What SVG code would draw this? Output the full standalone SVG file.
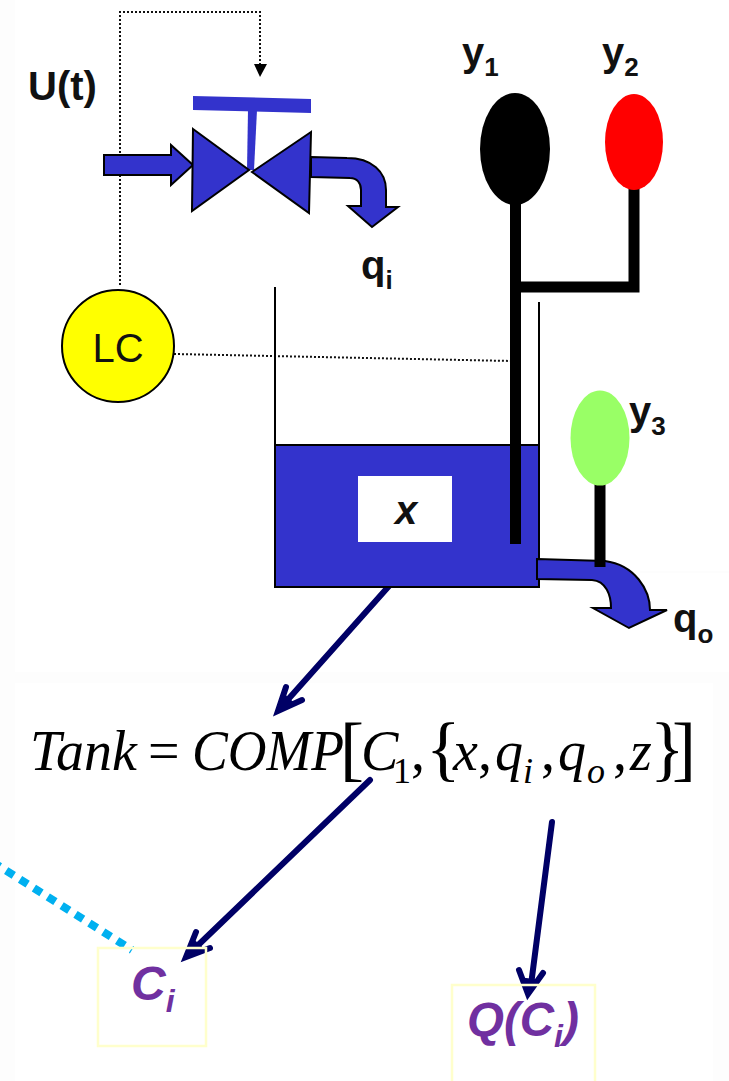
<svg xmlns="http://www.w3.org/2000/svg" width="729" height="1081" viewBox="0 0 729 1081">
<style>
text{font-family:"Liberation Sans",Arial,sans-serif}
.b{font-weight:bold;fill:#111;font-size:40px}
.s{font-size:26px}
.blue{fill:#3333cc;stroke:#000;stroke-width:2}
.rod{fill:none;stroke:#000;stroke-width:11}
.dot{fill:none;stroke:#111;stroke-width:2;stroke-dasharray:2 2}
.arr{fill:none;stroke:#000066;stroke-width:6;stroke-linecap:round}
.head{fill:#000066;stroke:#000066;stroke-width:1}
.m{font-family:"Liberation Serif","Times New Roman",serif;font-size:56px;font-style:italic;fill:#000}
.mu{font-style:normal}
.sub{font-size:36px}
.big{font-size:72px}
.box{fill:none;stroke:#ffffcc;stroke-width:2.500}
.p{font-weight:bold;font-style:italic;fill:#7030a0;font-size:48px}
.ps{font-size:32px}
.bg{fill:#fdfdfd}
</style>
<rect width="729" height="1081" fill="#fff"/>
<rect class="bg" x="0" y="0" width="15" height="1081"/>
<rect class="bg" x="0" y="672" width="729" height="11"/>
<rect class="bg" x="713" y="683" width="16" height="398"/>
<rect class="bg" x="640" y="571" width="89" height="2"/>
<g id="connectors">
<path class="dot" d="M120 285V12H260V65"/>
<path d="M254 64H267L260 77Z" fill="#000"/>
<path class="dot" d="M174 354L512 361"/>
<path d="M-7.700 861.800L132 950" fill="none" stroke="#00b0f0" stroke-width="8" stroke-dasharray="9 7.400"/>
<path class="arr" d="M389 586L284 704"/>
<path class="arr" d="M286 687L278 711L302 700" stroke-linejoin="miter"/>
<path class="head" d="M278 711L284 694L295 704Z"/>
<path class="arr" d="M370 780L192 951"/>
<path class="arr" d="M196 932L186 957L210 948"/>
<path class="head" d="M186 957L192 938L205 950Z"/>
<path class="arr" d="M552 822L531 985"/>
<path class="arr" d="M519 970L528 994L543 973"/>
<path class="head" d="M528 994L522 978L537 980Z"/>
</g>
<g id="valve">
<path d="M193 96L311 99V113L193 110Z" fill="#3333cc"/>
<path d="M248 110H257L254 170H247Z" fill="#3333cc"/>
<path class="blue" d="M104 155H171V145L193 165L171 185V175H104Z"/>
<path class="blue" d="M193 129L249 170L192 211Z"/>
<path class="blue" d="M311 132L252 172L309 213Z"/>
<path class="blue" d="M311 157L347 158C372 158 386 172 386 190V207H398L372 227L348 206H361V190C361 183 357 178 350 178L311 177Z"/>
</g>
<g id="tank">
<rect x="275" y="445" width="264" height="142" fill="#3333cc" stroke="#000" stroke-width="2"/>
<path d="M275 287V445M539 302V445" stroke="#000" stroke-width="2" fill="none"/>
<rect x="358" y="476" width="94" height="66" fill="#fff"/>
<text x="406" y="524" text-anchor="middle" font-size="40" font-weight="bold" font-style="italic" fill="#111">x</text>
</g>
<g id="outlet">
<path class="blue" d="M537 559L605 561C635 565 650 590 650 610H667L629 628L593 608H611C611 595 606 581 592 580L537 579Z" stroke-width="1.500"/>
</g>
<g id="sensors">
<path class="rod" d="M515.500 190V544"/>
<path class="rod" d="M634 180V287H516"/>
<path class="rod" d="M600 480V567" stroke-width="10"/>
<ellipse id="y1-bulb" cx="515" cy="149" rx="35" ry="56" fill="#000"/>
<ellipse id="y2-bulb" cx="634" cy="142" rx="29" ry="48" fill="#ff0000"/>
<ellipse id="y3-bulb" cx="600" cy="438" rx="29.500" ry="47.500" fill="#99ff66"/>
</g>
<g id="lc">
<circle cx="118" cy="346" r="56" fill="#ffff00" stroke="#000" stroke-width="2"/>
<text x="118" y="362" text-anchor="middle" font-size="40" fill="#111">LC</text>
</g>
<g id="labels">
<text class="b" x="28" y="100">U(t)</text>
<text class="b" x="361" y="279">q<tspan class="s" dy="10">i</tspan></text>
<text class="b" x="462" y="66">y<tspan class="s" dy="10">1</tspan></text>
<text class="b" x="602" y="66">y<tspan class="s" dy="10">2</tspan></text>
<text class="b" x="629" y="425">y<tspan class="s" dy="10">3</tspan></text>
<text class="b" x="673" y="632">q<tspan class="s" dy="11">o</tspan></text>
</g>
<g id="equation">
<text class="m" x="30" y="770">Tank</text>
<text class="m mu" x="148" y="770">=</text>
<text class="m" x="192" y="770" textLength="152" lengthAdjust="spacingAndGlyphs">COMP</text>
<text class="m mu big" x="340" y="772">[</text>
<text class="m" x="361" y="770">C</text>
<text class="m mu sub" x="393" y="783">1</text>
<text class="m mu" x="411" y="770">,</text>
<text class="m mu big" x="426" y="772">{</text>
<text class="m" x="453" y="770">x</text>
<text class="m mu" x="478" y="770">,</text>
<text class="m" x="495" y="770">q</text>
<text class="m sub" x="523" y="783">i</text>
<text class="m mu" x="541" y="770">,</text>
<text class="m" x="558" y="770">q</text>
<text class="m sub" x="587" y="783">o</text>
<text class="m mu" x="613" y="770">,</text>
<text class="m" x="630" y="770">z</text>
<text class="m mu big" x="650" y="772">}</text>
<text class="m mu big" x="672" y="772">]</text>
</g>
<g id="ci">
<rect class="box" x="98" y="948" width="108" height="98"/>
<text class="p" x="131" y="1000">C<tspan class="ps" dy="12">i</tspan></text>
</g>
<g id="qci">
<rect class="box" x="452" y="985" width="143" height="100"/>
<text class="p" x="467" y="1036" textLength="87" lengthAdjust="spacingAndGlyphs">Q(C</text>
<text class="p ps" x="554" y="1047">i</text>
<text class="p" x="563" y="1036">)</text>
</g>
</svg>
